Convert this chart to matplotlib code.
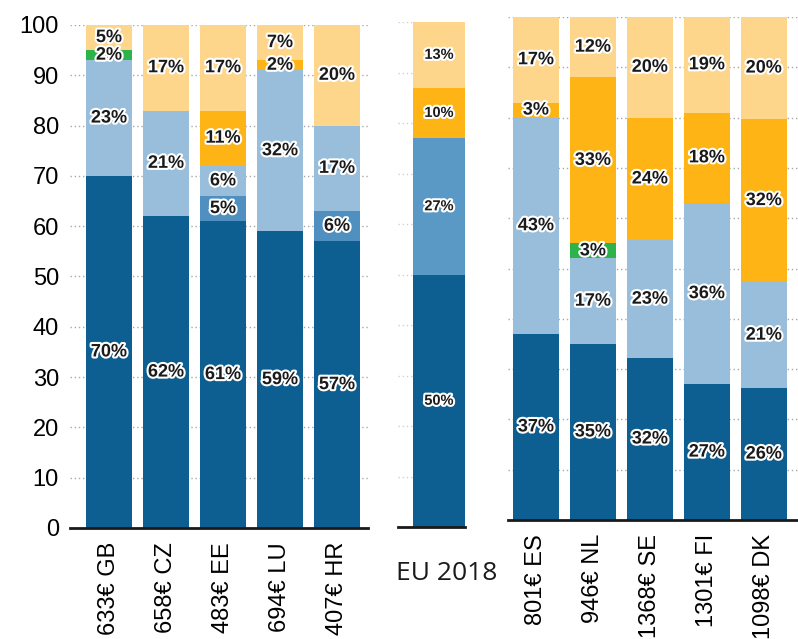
import matplotlib
matplotlib.use("Agg")
import matplotlib.pyplot as plt
import matplotlib.patheffects as pe
import numpy as np

W, H = 798, 639

# colours of the six spending categories, bottom to top
COLORS = ['#0d5e91', '#4f90c0', '#98bedb', '#2db34a', '#fdb414', '#fdd68c']

left_names = ["633€ GB", "658€ CZ", "483€ EE", "694€ LU", "407€ HR"]
left_dark = [70, 62, 61, 59, 57]
left_mid = [0, 0, 5, 0, 6]
left_light = [23, 21, 6, 32, 17]
left_green = [2, 0, 0, 0, 0]
left_orange = [0, 0, 11, 2, 0]
left_pale = [5, 17, 17, 7, 20]

eu_name = "EU 2018"
eu_dark = [50]
eu_mid = [27]
eu_light = [0]
eu_green = [0]
eu_orange = [10]
eu_pale = [13]

right_names = ["801€ ES", "946€ NL", "1368€ SE", "1301€ FI", "1098€ DK"]
right_dark = [37, 35, 32.2, 27, 26.2]
right_mid = [0, 0, 0, 0, 0]
right_light = [43, 17, 23.4, 36, 21.1]
right_green = [0, 3, 0, 0, 0]
right_orange = [3, 33, 24.4, 18, 32.4]
right_pale = [17, 12, 20, 19, 20.3]

LABEL_FONT = ['Liberation Sans Narrow', 'Liberation Sans', 'DejaVu Sans']
TICK_FONT = ['Liberation Sans', 'DejaVu Sans']

fig = plt.figure(figsize=(W / 100, H / 100), dpi=100)


def px_axes(x0, x1, y_top, y_bottom):
    return fig.add_axes([x0 / W, (H - y_bottom) / H, (x1 - x0) / W, (y_bottom - y_top) / H])


def draw_panel(ax, layers, width, xlim, label_size, grid_color, colors=COLORS):
    n = len(layers[0])
    x = np.arange(n)
    bottom = np.zeros(n)
    for vals, col in zip(layers, colors):
        vals = np.array(vals, dtype=float)
        ax.bar(x, vals, bottom=bottom, width=width, color=col, edgecolor='none', zorder=2)
        for xi, b, v in zip(x, bottom, vals):
            if v > 0:
                ax.text(xi, b + v / 2, f"{v:.0f}%", ha='center', va='center',
                        fontsize=label_size, fontweight='bold', family=LABEL_FONT,
                        color='#1a1a1a', zorder=3,
                        path_effects=[pe.withStroke(linewidth=3, foreground='white')])
        bottom += vals
    ax.set_xlim(*xlim)
    ax.set_ylim(0, 100)
    ax.set_yticks(range(0, 101, 10))
    ax.yaxis.grid(True, linestyle=(0, (1, 2)), color=grid_color, linewidth=1)
    ax.set_axisbelow(True)
    for s in ['top', 'right', 'left']:
        ax.spines[s].set_visible(False)
    ax.spines['bottom'].set_linewidth(2)
    ax.spines['bottom'].set_color('#1a1a1a')
    ax.tick_params(axis='both', length=0)
    ax.set_facecolor('none')
    return x


# left panel
ax1 = px_axes(70, 368, 25, 528)
x = draw_panel(ax1, [left_dark, left_mid, left_light, left_green, left_orange, left_pale],
               0.807, (-0.684, 4.544), 13, '#a8a8a8')
ax1.set_xticks(x)
ax1.set_xticklabels(left_names, rotation=90, fontsize=17, family=TICK_FONT)
ax1.tick_params(axis='x', pad=10)
ax1.tick_params(axis='y', pad=8)
for t in ax1.get_yticklabels():
    t.set_fontsize(17)
    t.set_family(TICK_FONT)

# EU average
ax2 = px_axes(398, 465, 22, 527)
eu_colors = [COLORS[0], '#5a99c5', COLORS[2], COLORS[3], COLORS[4], COLORS[5]]
draw_panel(ax2, [eu_dark, eu_mid, eu_light, eu_green, eu_orange, eu_pale],
           1.0, (-0.788, 0.5), 10.5, '#d0d0d0', colors=eu_colors)
ax2.set_xticks([])
ax2.tick_params(axis='y', labelleft=False)
fig.text(447 / W, 1 - 573 / H, eu_name, ha='center', va='center', fontsize=19,
         family=['Open Sans', 'DejaVu Sans'], color='#1a1a1a')

# right panel
ax3 = px_axes(508, 798, 17, 520)
x = draw_panel(ax3, [right_dark, right_mid, right_light, right_green, right_orange, right_pale],
               0.807, (-0.49, 4.6), 13, '#a8a8a8')
ax3.set_xticks(x)
ax3.set_xticklabels(right_names, rotation=90, fontsize=17, family=TICK_FONT)
ax3.tick_params(axis='x', pad=10)
ax3.tick_params(axis='y', labelleft=False)

fig.savefig('out.png', dpi=100)
